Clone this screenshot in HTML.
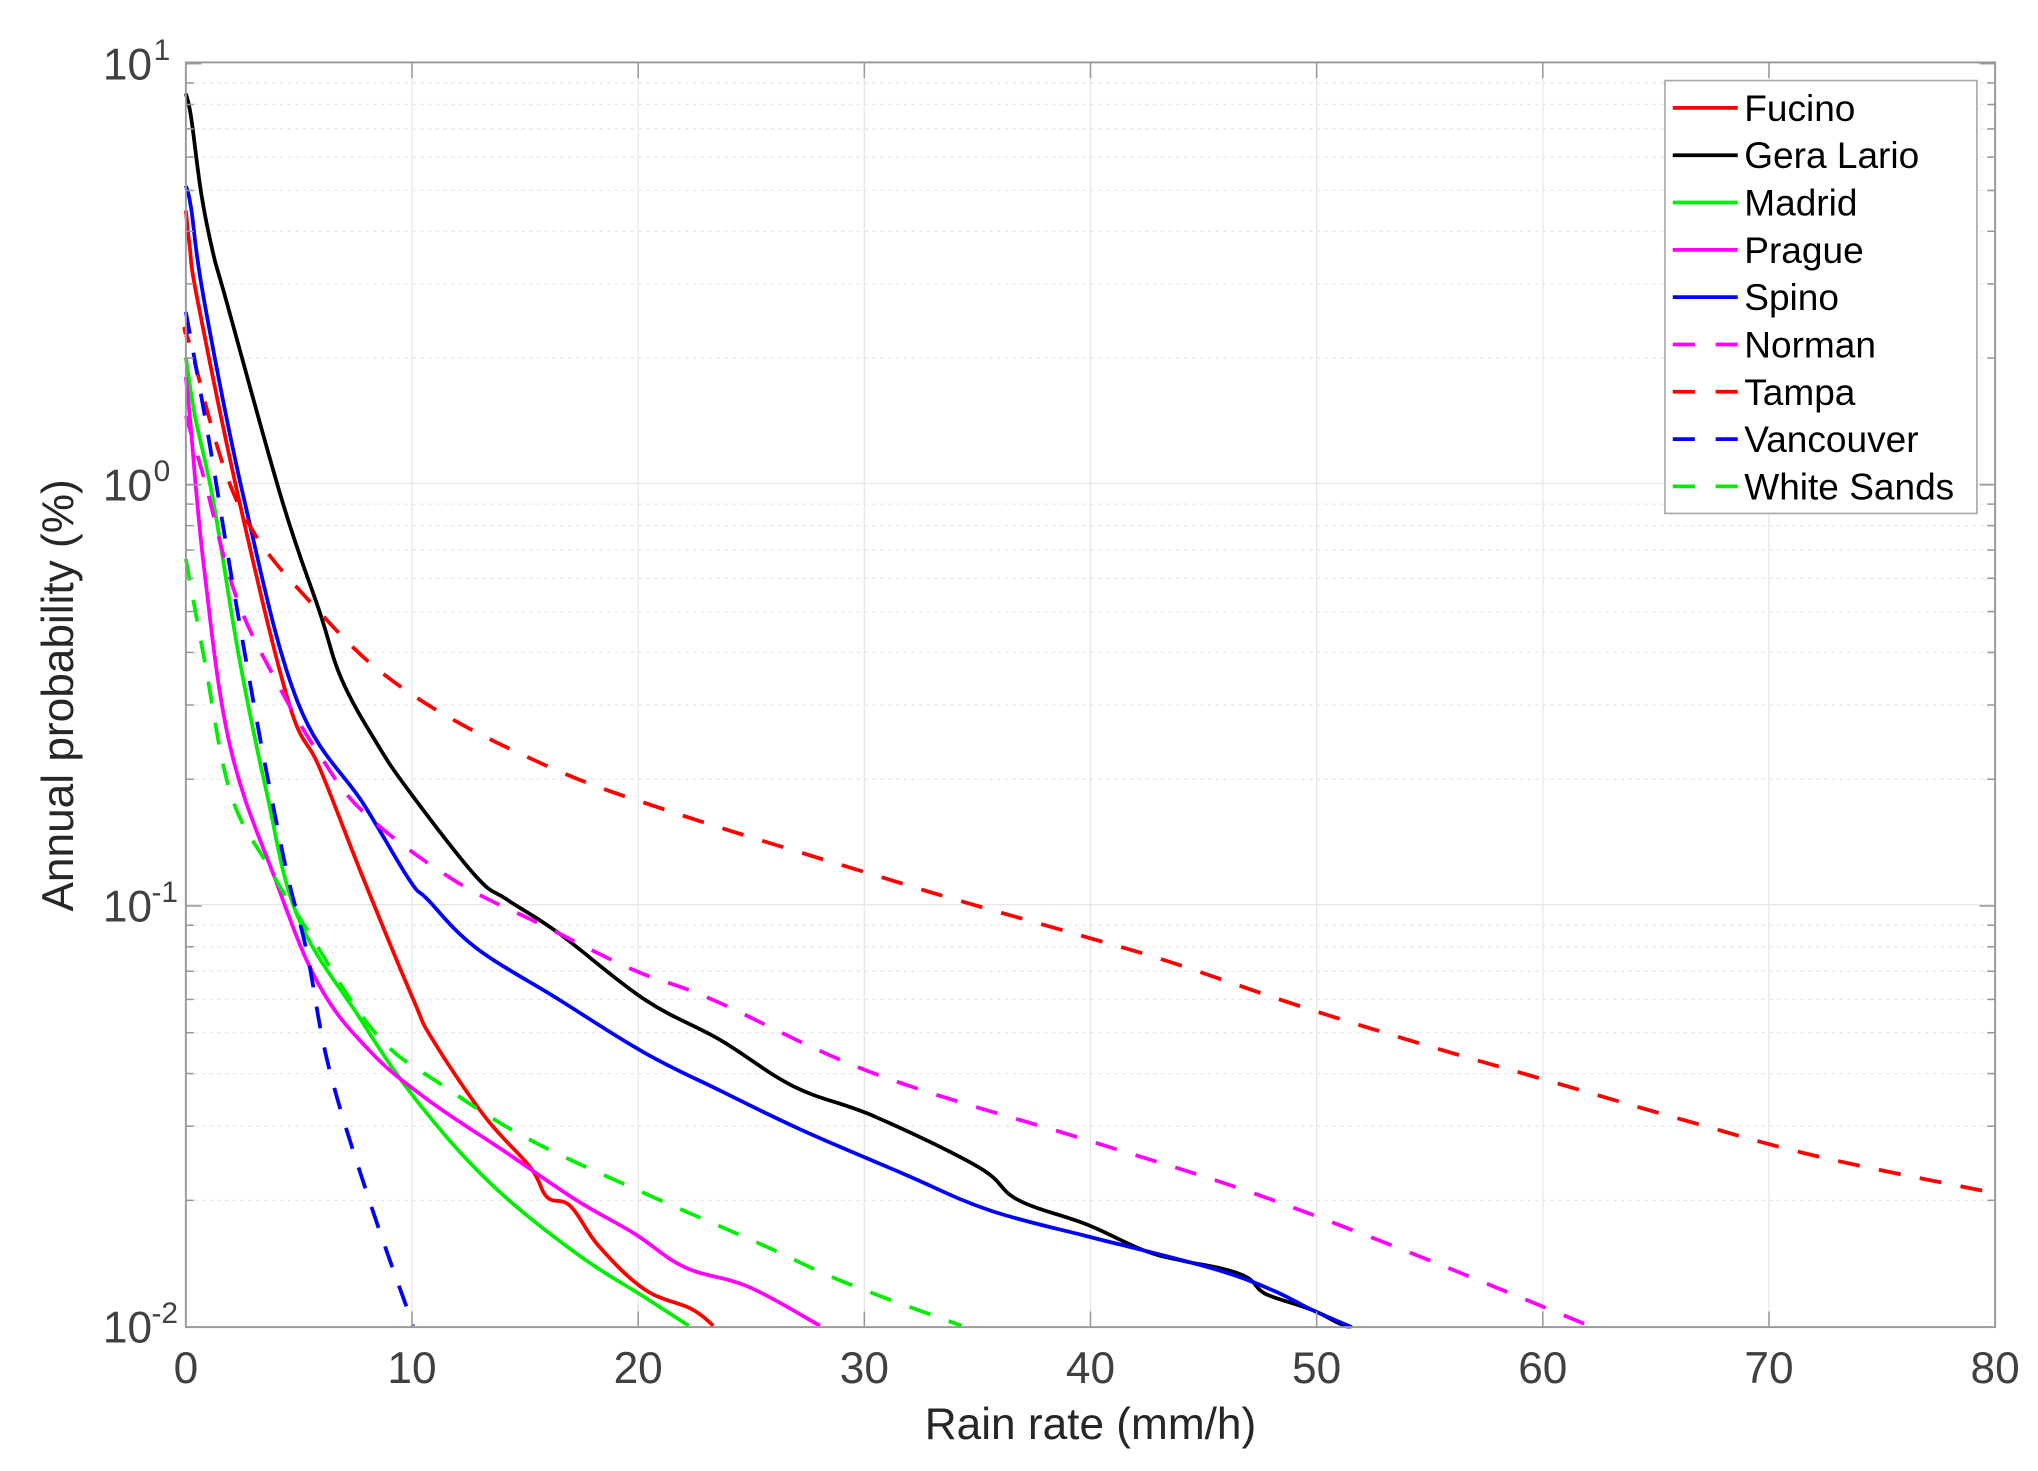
<!DOCTYPE html>
<html><head><meta charset="utf-8"><style>html,body{margin:0;padding:0;background:#fff}svg{display:block}</style></head>
<body>
<svg width="2038" height="1471" viewBox="0 0 1568 1131.7" preserveAspectRatio="none" xmlns="http://www.w3.org/2000/svg" font-family="Liberation Sans, sans-serif">
<rect width="1568" height="1132" fill="#fff"/>
<g stroke="#e6e6e6" stroke-width="1">
<line x1="317" y1="48" x2="317" y2="1021"/><line x1="491" y1="48" x2="491" y2="1021"/><line x1="665" y1="48" x2="665" y2="1021"/><line x1="839" y1="48" x2="839" y2="1021"/><line x1="1013" y1="48" x2="1013" y2="1021"/><line x1="1187" y1="48" x2="1187" y2="1021"/><line x1="1361" y1="48" x2="1361" y2="1021"/>
<line x1="143" y1="372" x2="1535" y2="372"/><line x1="143" y1="696" x2="1535" y2="696"/>
</g>
<g stroke="#e8e8e8" stroke-width="1" stroke-dasharray="3,3" id="minor"></g>
<g id="curves" fill="none" stroke-width="2.9" stroke-linejoin="round"></g>
<rect x="143" y="48" width="1392" height="973" fill="none" stroke="#999" stroke-width="1.5"/>
<g id="ticks" stroke="#999" stroke-width="1.2"></g>
<g fill="#404040" font-size="34" text-anchor="middle">
<text x="143" y="1064">0</text><text x="317" y="1064">10</text><text x="491" y="1064">20</text><text x="665" y="1064">30</text><text x="839" y="1064">40</text><text x="1013" y="1064">50</text><text x="1187" y="1064">60</text><text x="1361" y="1064">70</text><text x="1535" y="1064">80</text>
</g>
<g fill="#404040" font-size="34" text-anchor="end">
<text x="117" y="61">10</text><text x="131" y="46" font-size="23">1</text>
<text x="117" y="385">10</text><text x="131" y="370" font-size="23">0</text>
<text x="117" y="709">10</text><text x="137" y="694" font-size="23">-1</text>
<text x="117" y="1033">10</text><text x="137" y="1018" font-size="23">-2</text>
</g>
<text x="839" y="1107" fill="#262626" font-size="34" text-anchor="middle">Rain rate (mm/h)</text>
<text transform="translate(56,535) rotate(-90)" fill="#262626" font-size="34" text-anchor="middle">Annual probability (%)</text>
<rect x="1281" y="62" width="240" height="333" fill="#fff" stroke="#aaa" stroke-width="1.3"/>
<g id="legend" stroke-width="2.9"></g>
</svg>
<script>
const NS="http://www.w3.org/2000/svg";
function el(p,t,a,txt){const e=document.createElementNS(NS,t);for(const k in a)e.setAttribute(k,a[k]);if(txt)e.textContent=txt;p.appendChild(e);return e;}
const minor=document.getElementById('minor'),ticks=document.getElementById('ticks');
for(let d=0;d<3;d++){for(let m=2;m<=9;m++){const y=1021-324*(d+Math.log10(m));el(minor,'line',{x1:143,y1:y,x2:1535,y2:y});el(ticks,'line',{x1:143,y1:y,x2:149,y2:y});el(ticks,'line',{x1:1529,y1:y,x2:1535,y2:y});}}
for(let d=0;d<=3;d++){const y=1021-324*d;el(ticks,'line',{x1:143,y1:y,x2:155,y2:y});el(ticks,'line',{x1:1523,y1:y,x2:1535,y2:y});}
for(let i=1;i<8;i++){const x=143+174*i;el(ticks,'line',{x1:x,y1:1021,x2:x,y2:1009});el(ticks,'line',{x1:x,y1:48,x2:x,y2:60});}
const S={
fuc:["#ff0000","",[[143,162],[146,190],[152,231],[184,385],[222,540],[246,591],[280,677],[318,769],[333,800],[373,859],[408,898],[421,921],[439,928],[461,959],[496,992],[532,1007],[549,1020]]],
ger:["#000000","",[[143,72],[147,90],[155,150],[164,195],[174,231],[217,385],[246,471],[263,523],[290,572],[315,609],[366,674],[390,692],[430,718],[496,769],[554,800],[611,836],[673,859],[753,898],[783,923],[836,942],[880,962],[910,970],[940,976],[960,983],[970,993],[980,998],[1010,1008],[1030,1018],[1038,1021]]],
mad:["#00ee00","",[[143,275],[150,320],[164,385],[184,506],[205,609],[229,705],[276,782],[320,846],[377,910],[443,964],[496,998],[530,1020]]],
pra:["#ff00ff","",[[143,290],[146,320],[157,437],[177,574],[212,677],[245,757],[284,808],[329,846],[390,887],[443,923],[488,949],[527,975],[576,990],[631,1020]]],
spi:["#0000ff","",[[143,143],[147,160],[157,231],[188,385],[229,540],[280,619],[315,677],[329,692],[366,729],[430,769],[496,810],[554,839],[616,869],[695,903],[761,931],[836,951],[880,962],[940,978],[980,993],[1010,1008],[1040,1021]]],
nor:["#ff00ff","17,15",[[143,320],[157,368],[181,457],[212,523],[246,581],[281,626],[349,677],[418,712],[487,746],[548,769],[673,826],[836,877],[950,913],[1050,950],[1150,990],[1225,1021]]],
tam:["#ff0000","17,15",[[143,258],[146,265],[184,389],[246,471],[315,533],[418,588],[521,626],[682,676],[735,692],[836,721],[900,740],[1000,774],[1100,805],[1200,834],[1300,863],[1400,890],[1535,918]]],
van:["#0000ff","17,15",[[143,240],[160,334],[177,437],[195,540],[208,609],[222,677],[236,732],[253,821],[284,923],[318,1020]]],
whi:["#00ee00","17,15",[[143,430],[157,506],[177,609],[205,664],[233,710],[289,795],[342,836],[408,877],[496,918],[585,957],[651,987],[740,1020]]]};
function smooth(p){let d="M"+p[0][0]+","+p[0][1];for(let i=0;i<p.length-1;i++){const p0=p[Math.max(0,i-1)],p1=p[i],p2=p[i+1],p3=p[Math.min(p.length-1,i+2)];const t=0.18;const c1=[p1[0]+(p2[0]-p0[0])*t,p1[1]+(p2[1]-p0[1])*t],c2=[p2[0]-(p3[0]-p1[0])*t,p2[1]-(p3[1]-p1[1])*t];d+=" C"+c1.join(",")+" "+c2.join(",")+" "+p2.join(",");}return d;}
const cg=document.getElementById('curves');
for(const k in S){const [c,d,p]=S[k];const a={d:smooth(p),stroke:c};if(d)a['stroke-dasharray']=d;el(cg,'path',a);}
const names=[["Fucino","fuc"],["Gera Lario","ger"],["Madrid","mad"],["Prague","pra"],["Spino","spi"],["Norman","nor"],["Tampa","tam"],["Vancouver","van"],["White Sands","whi"]];
const lg=document.getElementById('legend');
names.forEach((n,i)=>{const y=83+i*36.4;const [c,d]=S[n[1]];const a={x1:1287,y1:y,x2:1337,y2:y,stroke:c};if(d)a['stroke-dasharray']="17,16";el(lg,'line',a);el(lg,'text',{x:1342,y:y+10,'font-size':28.5,fill:'#000'},n[0]);});
</script>
</body></html>
